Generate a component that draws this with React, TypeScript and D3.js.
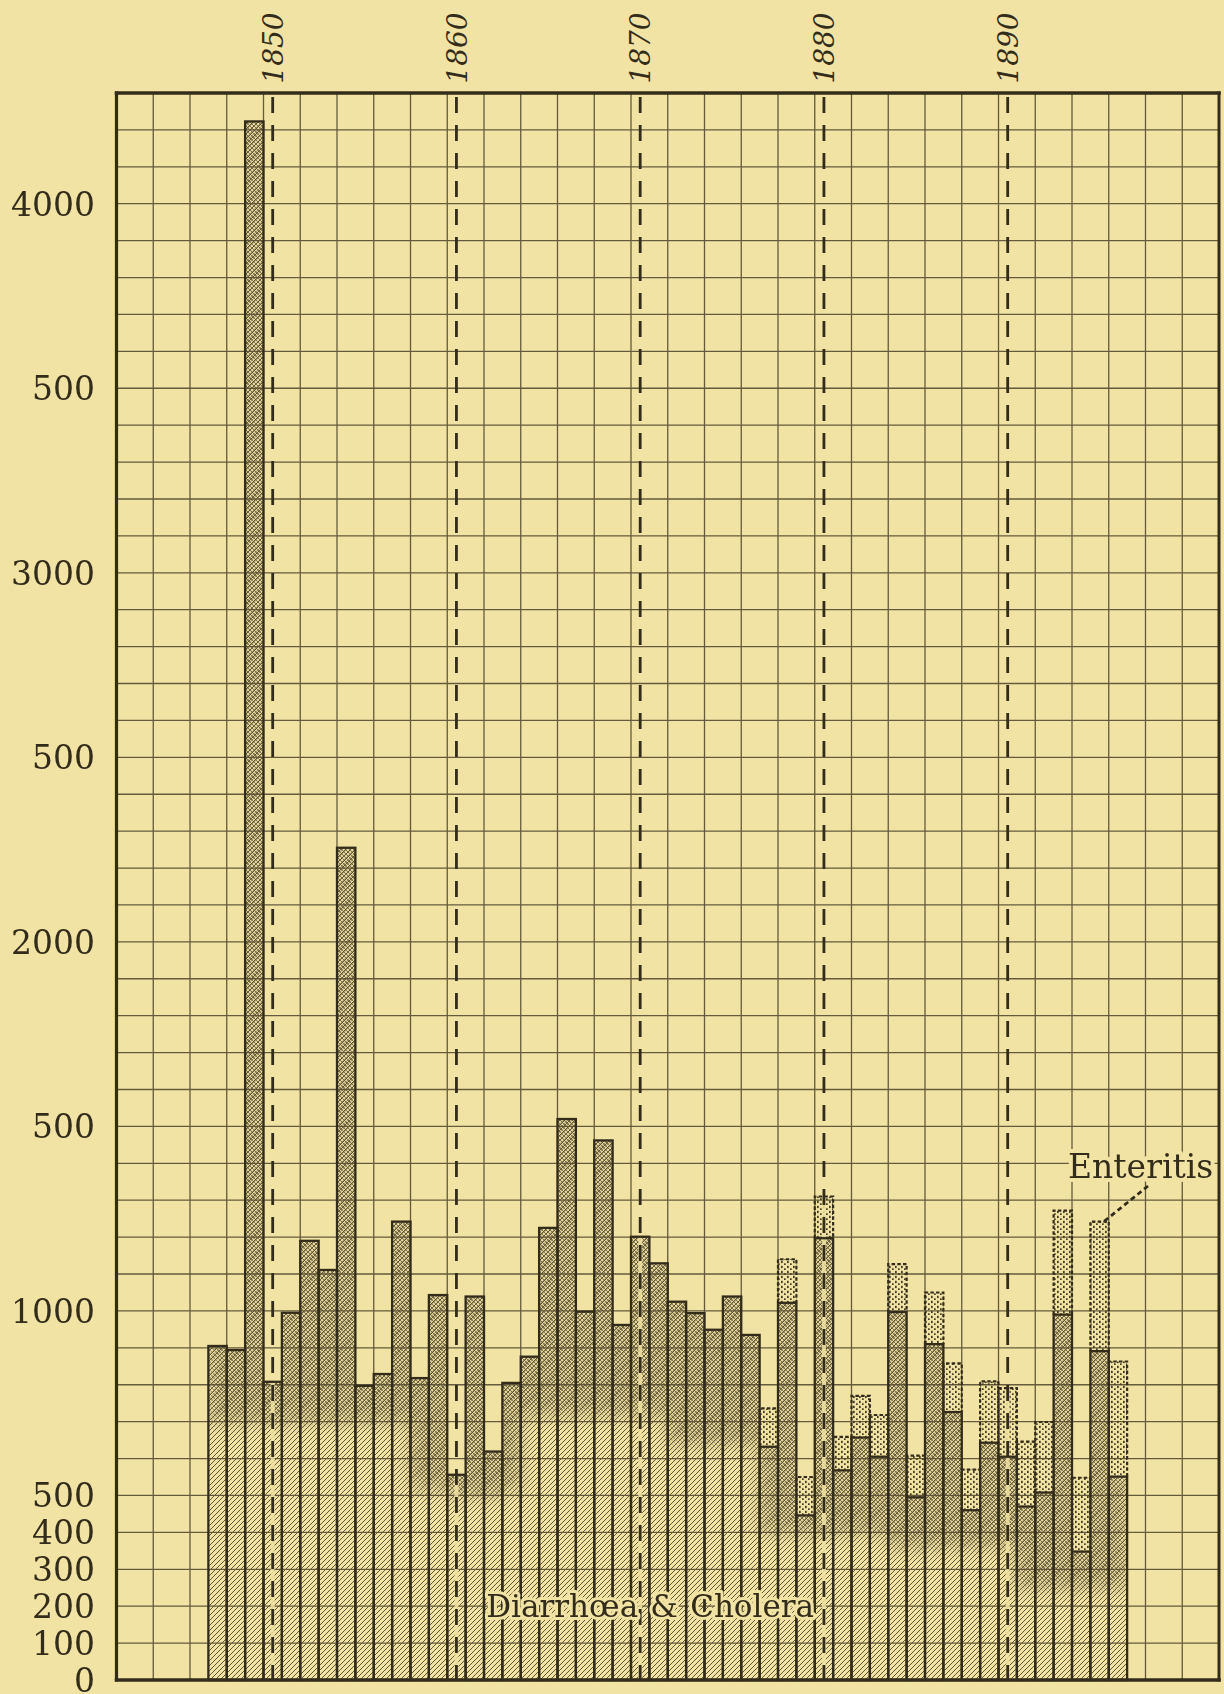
import React from 'react';
import * as d3 from 'd3';

// ---- data ----
const years = [
  1847, 1848, 1849, 1850, 1851, 1852, 1853, 1854, 1855, 1856,
  1857, 1858, 1859, 1860, 1861, 1862, 1863, 1864, 1865, 1866,
  1867, 1868, 1869, 1870, 1871, 1872, 1873, 1874, 1875, 1876,
  1877, 1878, 1879, 1880, 1881, 1882, 1883, 1884, 1885, 1886,
  1887, 1888, 1889, 1890, 1891, 1892, 1893, 1894, 1895, 1896,
];
const diarrhoeaCholera = [
  905, 894, 4223, 808, 995, 1190, 1111, 2255, 797, 829,
  1242, 818, 1043, 556, 1039, 619, 805, 876, 1225, 1520,
  998, 1462, 962, 1201, 1129, 1025, 994, 949, 1039, 935,
  632, 1022, 446, 1197, 568, 657, 605, 997, 495, 910,
  726, 460, 643, 605, 470, 508, 990, 348, 891, 551,
];
const enteritis = [
  0, 0, 0, 0, 0, 0, 0, 0, 0, 0,
  0, 0, 0, 0, 0, 0, 0, 0, 0, 0,
  0, 0, 0, 0, 0, 0, 0, 0, 0, 0,
  104, 118, 104, 113, 91, 113, 113, 130, 113, 140,
  132, 110, 166, 186, 176, 191, 282, 200, 351, 312,
];
// level below which the dense cross-hatch gives way to plain diagonal hatching
const crossHatchFloor = [
  700, 700, 700, 700, 700, 700, 700, 700, 700, 700,
  700, 520, 520, 500, 500, 500, 520, 720, 720, 720,
  720, 720, 720, 720, 720, 640, 640, 640, 640, 640,
  400, 400, 400, 400, 400, 400, 400, 360, 360, 360,
  360, 360, 360, 360, 250, 250, 250, 250, 250, 250,
];
const decadeLines = [1850, 1860, 1870, 1880, 1890];
const yTickValues = [0, 100, 200, 300, 400, 500, 1000, 1500, 2000, 2500, 3000, 3500, 4000];
const yTickLabels = ['0', '100', '200', '300', '400', '500', '1000', '500', '2000', '500', '3000', '500', '4000'];

const W = 1224;
const H = 1694;
const PAPER = '#f1e3a3';
const INK = '#342c1b';
const GRID = '#564c30';
const SERIF = '"DejaVu Serif", "Liberation Serif", serif';

export default function App() {
  const x = d3.scaleLinear().domain([1841.5, 1901.5]).range([116.5, 1219]);
  const y = d3.scaleLinear().domain([0, 4300]).range([1680, 93]);
  const gridX = d3.range(1841.5, 1901.6, 2);
  const gridY = d3.range(0, 4301, 100);

  const bars = years.map((yr, i) => {
    const x0 = x(yr - 0.5);
    const x1 = x(yr + 0.5);
    const d = diarrhoeaCholera[i];
    const e = enteritis[i];
    return { yr, x0, x1, w: x1 - x0, yD: y(d), yE: y(d + e), e, floor: y(crossHatchFloor[i]) };
  });

  const iEnt = years.indexOf(1895);
  const entTop = bars[iEnt];

  return (
    <svg width={W} height={H} viewBox={`0 0 ${W} ${H}`}
      style={{ position: 'absolute', left: 0, top: 0, display: 'block' }}>
      <defs>
        <pattern id="diag" width="5" height="5" patternUnits="userSpaceOnUse">
          <path d="M-1,1 L1,-1 M0,5 L5,0 M4,6 L6,4" stroke="#5f5537" strokeWidth="1.0" />
        </pattern>
        <pattern id="cross" width="4" height="4" patternUnits="userSpaceOnUse">
          <rect width="4" height="4" fill="rgba(110,95,55,0.10)" />
          <path d="M0,0 L4,4 M-1,3 L1,5 M3,-1 L5,1" stroke="#5a5034" strokeWidth="0.75" />
          <path d="M0,4 L4,0 M-1,1 L1,-1 M3,5 L5,3" stroke="#5a5034" strokeWidth="0.5" />
        </pattern>
        <pattern id="dots" width="6" height="5" patternUnits="userSpaceOnUse">
          <rect x="1" y="0.8" width="1.7" height="2.3" fill="#463d26" />
          <rect x="4" y="3.3" width="1.7" height="1.9" fill="#463d26" />
        </pattern>
        <clipPath id="barsClip">
          {bars.map((b) => (
            <rect key={b.yr} x={b.x0} y={b.yE} width={b.w} height={y(0) - b.yE} />
          ))}
        </clipPath>
        <filter id="soft" filterUnits="userSpaceOnUse" x="0" y="0" width={W} height={H}>
          <feGaussianBlur stdDeviation="8" />
        </filter>
        <mask id="crossMask" maskUnits="userSpaceOnUse" x="0" y="0" width={W} height={H}>
          <g filter="url(#soft)">
            {bars.map((b) => (
              <rect key={b.yr} x={b.x0} y={y(4300)} width={b.w} height={b.floor - y(4300)} fill="white" />
            ))}
          </g>
        </mask>
      </defs>

      <rect x="0" y="0" width={W} height={H} fill={PAPER} />

      {/* grid */}
      <g stroke={GRID} strokeWidth="1.3" opacity="0.9">
        {gridX.map((g) => (
          <line key={'gx' + g} x1={x(g)} x2={x(g)} y1={y(4300)} y2={y(0)} />
        ))}
        {gridY.map((g) => (
          <line key={'gy' + g} x1={x(1841.5)} x2={x(1901.5)} y1={y(g)} y2={y(g)} />
        ))}
      </g>

      {/* Diarrhoea & Cholera: diagonal hatching */}
      <g>
        {bars.map((b) => (
          <rect key={b.yr} x={b.x0} y={b.yD} width={b.w} height={y(0) - b.yD} fill="url(#diag)" />
        ))}
      </g>
      {/* dense cross-hatch on the upper part */}
      <g mask="url(#crossMask)">
        {bars.map((b) => (
          <rect key={b.yr} x={b.x0} y={b.yD} width={b.w} height={y(0) - b.yD} fill="url(#cross)" />
        ))}
      </g>

      {/* Enteritis: stippled */}
      <g>
        {bars.filter((b) => b.e > 0).map((b) => (
          <rect key={b.yr} x={b.x0} y={b.yE} width={b.w} height={b.yD - b.yE} fill="url(#dots)" />
        ))}
      </g>

      {/* paper halo under decade lines inside bars */}
      <g clipPath="url(#barsClip)">
        {decadeLines.map((dl) => (
          <line key={'h' + dl} x1={x(dl)} x2={x(dl)} y1={y(4300)} y2={y(0)} stroke={PAPER} strokeWidth="4" opacity="0.85" />
        ))}
      </g>

      {/* outlines */}
      <g fill="none" stroke={INK}>
        {bars.map((b) => (
          <rect key={b.yr} x={b.x0} y={b.yD} width={b.w} height={y(0) - b.yD} strokeWidth="2.3" />
        ))}
        {bars.filter((b) => b.e > 0).map((b) => (
          <path key={'e' + b.yr}
            d={`M${b.x0},${b.yD} L${b.x0},${b.yE} L${b.x1},${b.yE} L${b.x1},${b.yD}`}
            strokeWidth="2.2" strokeDasharray="3.5,2.2" />
        ))}
      </g>

      {/* decade dashed lines */}
      <g stroke={INK} strokeWidth="2.8" strokeDasharray="16,12">
        {decadeLines.map((dl) => (
          <line key={'d' + dl} x1={x(dl)} x2={x(dl)} y1={y(4300) + 4} y2={y(0)} />
        ))}
      </g>

      {/* frame */}
      <g stroke={INK} strokeLinecap="square">
        <line x1={x(1841.5)} x2={x(1901.5)} y1={y(4300)} y2={y(4300)} strokeWidth="3.5" />
        <line x1={x(1841.5)} x2={x(1901.5)} y1={y(0)} y2={y(0)} strokeWidth="3.5" />
        <line x1={x(1841.5)} x2={x(1841.5)} y1={y(4300)} y2={y(0)} strokeWidth="3.2" />
        <line x1={x(1901.5)} x2={x(1901.5)} y1={y(4300)} y2={y(0)} strokeWidth="3" />
      </g>

      {/* y labels */}
      <g fontFamily={SERIF} fontSize="33" fill={INK} textAnchor="end">
        {yTickValues.map((v, i) => (
          <text key={'yl' + v} x={95} y={y(v)} dy="0.36em">{yTickLabels[i]}</text>
        ))}
      </g>

      {/* decade labels */}
      <g fontFamily={SERIF} fontSize="28" fontStyle="italic" fill={INK}>
        {decadeLines.map((dl) => (
          <text key={'yr' + dl} transform={`translate(${x(dl)},48) rotate(-90)`} textAnchor="middle" dy="0.36em">{dl}</text>
        ))}
      </g>

      {/* series labels */}
      <g fontFamily={SERIF} fontSize="31" fill={INK} stroke={PAPER} strokeWidth="6" paintOrder="stroke" strokeLinejoin="round">
        <text x={x(1870) - 2} y={1617} textAnchor="end">Diarrhœa</text>
        <text x={x(1870) + 10} y={1617}>&amp;</text>
        <text x={x(1870) + 50} y={1617}>Cholera</text>
      </g>
      <g fontFamily={SERIF} fontSize="33" fill={INK} stroke={PAPER} strokeWidth="8" paintOrder="stroke" strokeLinejoin="round">
        <text x={1068} y={1178}>Enteritis</text>
      </g>
      <line x1={1148} y1={1186} x2={entTop.x0 + entTop.w / 2 + 3} y2={entTop.yE + 1}
        stroke={INK} strokeWidth="2.8" strokeDasharray="5,3.5" />
    </svg>
  );
}
